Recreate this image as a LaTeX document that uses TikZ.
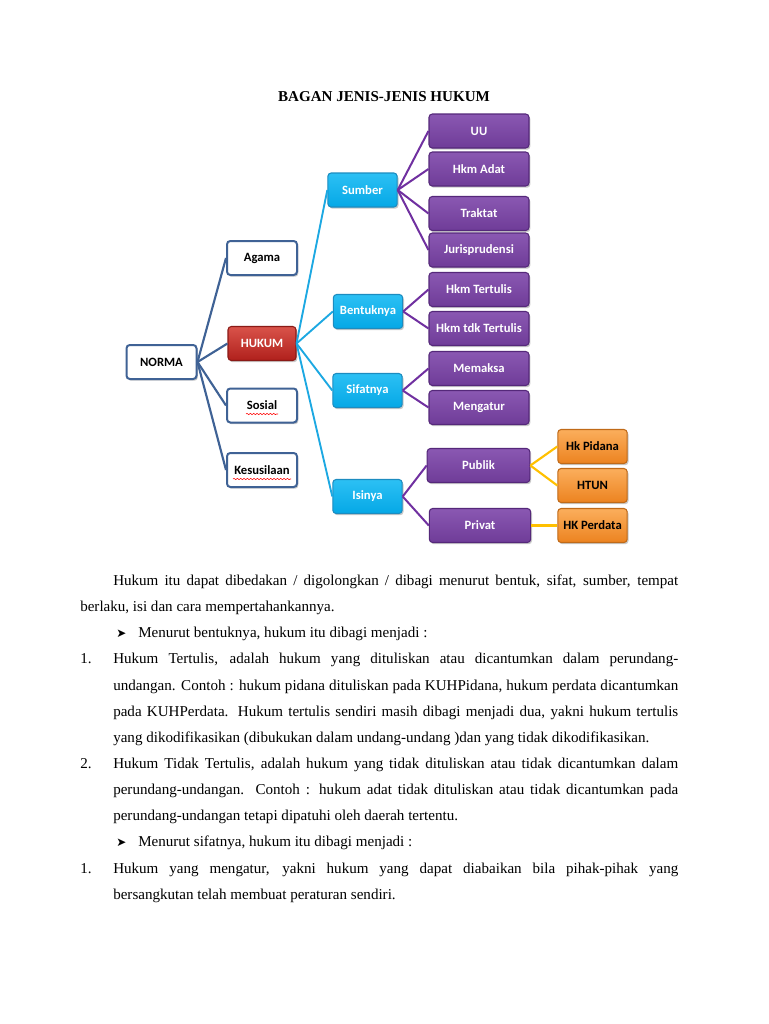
\documentclass[tikz,border=0pt]{standalone}
\usepackage{fontspec}
\setmainfont{Liberation Serif}
\newfontfamily\cf{Carlito}
\newfontfamily\symf{DejaVu Sans}
\usetikzlibrary{shadows,decorations.pathmorphing}
\definecolor{nblue}{HTML}{3F6295}
\definecolor{hblue}{HTML}{1CA8E2}
\definecolor{purpl}{HTML}{7030A0}
\definecolor{gold}{HTML}{FFC000}
\definecolor{ctop}{HTML}{2CC0F4}
\definecolor{cbot}{HTML}{05A8E6}
\definecolor{cbrd}{HTML}{1C8CC0}
\definecolor{ptop}{HTML}{8A58B2}
\definecolor{pbot}{HTML}{6F3C98}
\definecolor{pbrd}{HTML}{55287A}
\definecolor{otop}{HTML}{FBAE5C}
\definecolor{obot}{HTML}{EC8320}
\definecolor{obrd}{HTML}{C06A18}
\definecolor{rtop}{HTML}{D9534A}
\definecolor{rbot}{HTML}{B0201C}
\definecolor{rbrd}{HTML}{8A1A16}
\tikzset{
  box/.style={rounded corners=2.5pt, inner sep=0pt, minimum height=25.5pt,
    font=\cf\bfseries\fontsize{9.5}{11}\selectfont, line width=0.8pt,
    drop shadow={shadow xshift=1pt, shadow yshift=-1.3pt, opacity=0.35, fill=black!60}},
  wbox/.style={box, draw=nblue, fill=white, line width=1.5pt, text=black, minimum width=52.5pt},
  rbox/.style={box, top color=rtop, bottom color=rbot, draw=rbrd, text=white, minimum width=51pt},
  cbox/.style={box, top color=ctop, bottom color=cbot, draw=cbrd, text=white, minimum width=52pt},
  pbox/.style={box, top color=ptop, bottom color=pbot, draw=pbrd, text=white, minimum width=75pt},
  obox/.style={box, top color=otop, bottom color=obot, draw=obrd, text=black, minimum width=52pt},
  nline/.style={draw=nblue, line width=1.6pt},
  hline/.style={draw=hblue, line width=1.4pt},
  pline/.style={draw=purpl, line width=1.5pt},
  gline/.style={draw=gold, line width=1.6pt},
  txt/.style={anchor=base west, inner sep=0pt, font=\fontsize{11.3}{13}\selectfont},
  squig/.style={draw=red, line width=0.4pt, decorate, decoration={snake, amplitude=0.5pt, segment length=2.5pt}}
}
\newcommand{\jl}[1]{\makebox[423.75pt][s]{#1}}
\newcommand{\bul}{{\symf\fontsize{9}{10}\selectfont ➤}}
\begin{document}
\begin{tikzpicture}[x=0.75pt,y=-0.75pt]
\useasboundingbox (0,0) rectangle (768,1024);
\fill[white] (0,0) rectangle (768,1024);

\node[font=\bfseries\fontsize{11.3}{13}\selectfont, anchor=base] (title) at (384,101) {BAGAN JENIS-JENIS HUKUM};

% level 1
\node[wbox] (norma) at (161.5,362) {NORMA};
\node[wbox] (agama) at (262,258) {Agama};
\node[rbox] (hukum) at (262,343.5) {HUKUM};
\node[wbox] (sosial) at (262,405.5) {Sosial};
\node[wbox] (kesus) at (262,470) {Kesusilaan};

% level 2
\node[cbox] (sumber) at (362.5,190) {Sumber};
\node[cbox] (bentuk) at (368,311.5) {Bentuknya};
\node[cbox] (sifat) at (367.5,390.5) {Sifatnya};
\node[cbox] (isi) at (367.5,496.5) {Isinya};

% level 3
\node[pbox] (uu) at (479,131) {UU};
\node[pbox] (adat) at (479,169) {Hkm Adat};
\node[pbox] (traktat) at (479,213.5) {Traktat};
\node[pbox] (juris) at (479,250) {Jurisprudensi};
\node[pbox] (tertulis) at (479,289.5) {Hkm Tertulis};
\node[pbox] (tdk) at (479,328.5) {Hkm tdk Tertulis};
\node[pbox] (memaksa) at (479,368.5) {Memaksa};
\node[pbox] (mengatur) at (479,407.5) {Mengatur};
\node[pbox, minimum width=77pt] (publik) at (478.5,465.5) {Publik};
\node[pbox, minimum width=76pt] (privat) at (480,525.5) {Privat};

% level 4
\node[obox] (pidana) at (592.5,446.5) {Hk Pidana};
\node[obox] (htun) at (592.5,485.5) {HTUN};
\node[obox] (perdata) at (592.5,525.5) {HK Perdata};

% connectors
\foreach \c in {agama,hukum,sosial,kesus} \draw[nline] (norma.east) -- (\c.west);
\foreach \c in {sumber,bentuk,sifat,isi} \draw[hline] (hukum.east) -- (\c.west);
\foreach \c in {uu,adat,traktat,juris} \draw[pline] (sumber.east) -- (\c.west);
\foreach \c in {tertulis,tdk} \draw[pline] (bentuk.east) -- (\c.west);
\foreach \c in {memaksa,mengatur} \draw[pline] (sifat.east) -- (\c.west);
\foreach \c in {publik,privat} \draw[pline] (isi.east) -- (\c.west);
\foreach \c in {pidana,htun} \draw[gline] (publik.east) -- (\c.west);
\draw[gline] (privat.east) -- (perdata.west);

% spell-check squiggles
\coordinate (sq1a) at (246,414); \coordinate (sq1b) at (278,414);
\coordinate (sq2a) at (233,479); \coordinate (sq2b) at (291,479);
\draw[squig] (sq1a) -- (sq1b);
\draw[squig] (sq2a) -- (sq2b);

% body text
\node[txt] (t1) at (113,585) {\jl{Hukum itu dapat dibedakan / digolongkan / dibagi menurut bentuk, sifat, sumber, tempat}};
\node[txt] (t2) at (80,611) {berlaku, isi dan cara mempertahankannya.};
\node[txt] (b1) at (116,637) {\bul};
\node[txt] (t3) at (138,637) {Menurut bentuknya, hukum itu dibagi menjadi :};
\node[txt] (n1) at (80,663) {1.};
\node[txt] (t4) at (113,663) {\jl{Hukum Tertulis, adalah hukum yang dituliskan atau dicantumkan dalam perundang-}};
\node[txt] (t5) at (113,690) {\jl{undangan. Contoh : hukum pidana dituliskan pada KUHPidana, hukum perdata dicantumkan}};
\node[txt] (t6) at (113,716) {\jl{pada KUHPerdata. Hukum tertulis sendiri masih dibagi menjadi dua, yakni hukum tertulis}};
\node[txt] (t7) at (113,742) {yang dikodifikasikan (dibukukan dalam undang-undang )dan yang tidak dikodifikasikan.};
\node[txt] (n2) at (80,768) {2.};
\node[txt] (t8) at (113,768) {\jl{Hukum Tidak Tertulis, adalah hukum yang tidak dituliskan atau tidak dicantumkan dalam}};
\node[txt] (t9) at (113,794) {\jl{perundang-undangan. Contoh : hukum adat tidak dituliskan atau tidak dicantumkan pada}};
\node[txt] (t10) at (113,820) {perundang-undangan tetapi dipatuhi oleh daerah tertentu.};
\node[txt] (b2) at (116,846) {\bul};
\node[txt] (t11) at (138,846) {Menurut sifatnya, hukum itu dibagi menjadi :};
\node[txt] (n3) at (80,873) {1.};
\node[txt] (t12) at (113,873) {\jl{Hukum yang mengatur, yakni hukum yang dapat diabaikan bila pihak-pihak yang}};
\node[txt] (t13) at (113,899) {bersangkutan telah membuat peraturan sendiri.};
\end{tikzpicture}
\end{document}
